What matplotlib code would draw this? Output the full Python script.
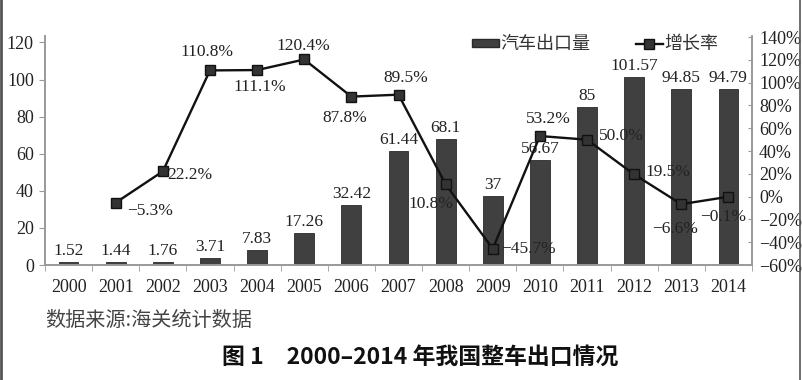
import numpy as np
import matplotlib.pyplot as plt
from matplotlib.patches import Patch
from matplotlib.lines import Line2D

years = [str(y) for y in range(2000, 2015)]
exports = [1.52, 1.44, 1.76, 3.71, 7.83, 17.26, 32.42, 61.44, 68.1, 37, 56.67, 85, 101.57, 94.85, 94.79]
export_labels = ["1.52", "1.44", "1.76", "3.71", "7.83", "17.26", "32.42", "61.44", "68.1", "37",
                 "56.67", "85", "101.57", "94.85", "94.79"]
growth_years = years[1:]
growth = [-5.3, 22.2, 110.8, 111.1, 120.4, 87.8, 89.5, 10.8, -45.7, 53.2, 50.0, 19.5, -6.6, -0.1]
growth_labels = ["\u22125.3%", "22.2%", "110.8%", "111.1%", "120.4%", "87.8%", "89.5%", "10.8%",
                 "\u221245.7%", "53.2%", "50.0%", "19.5%", "\u22126.6%", "\u22120.1%"]

# label placement for the growth line: (dx px, dy px, ha)
growth_offsets = [(11, -8, 'left'), (4, -4, 'left'), (-3, 18, 'center'), (3, -17, 'center'),
                  (-1, 13, 'center'), (-7, -21, 'center'), (7, 17, 'center'), (-15, -20, 'center'),
                  (8, 0, 'left'), (8, 17, 'center'), (12, 4, 'left'), (11, 2, 'left'),
                  (-6, -25, 'center'), (-5, -20, 'center')]

serif = 'Liberation Serif'
cjk = ['Noto Sans CJK SC', 'DejaVu Sans']
txt = '#222222'
spine_c = '#999999'

fig = plt.figure(figsize=(8.02, 3.8), dpi=100)
ax = fig.add_axes([45 / 802, 1 - 265 / 380, 707 / 802, 229 / 380])
ax2 = ax.twinx()

x = np.arange(len(years))
ax.bar(x, exports, width=0.42, color='#404040', edgecolor='#2a2a2a', linewidth=0.6, zorder=2)
for xi, v, lab in zip(x, exports, export_labels):
    ax.annotate(lab, (xi, v), xytext=(0, 3), textcoords='offset pixels', ha='center', va='bottom',
                fontsize=12.5, family=serif, color=txt, zorder=5)

xg = x[1:]
ax2.plot(xg, growth, color='#111111', linewidth=1.7, marker='s', markersize=7,
         markerfacecolor='#333333', markeredgecolor='#111111', zorder=4)
for xi, v, lab, (dx, dy, ha) in zip(xg, growth, growth_labels, growth_offsets):
    ax2.annotate(lab, (xi, v), xytext=(dx, dy), textcoords='offset pixels', ha=ha, va='center',
                 fontsize=12.5, family=serif, color=txt, zorder=5)

ax.set_xlim(-0.5, len(years) - 0.5)
ax.set_ylim(0, 123.5)
ax2.set_ylim(-60, 141)
ax.set_yticks(range(0, 121, 20))
ax2.set_yticks(range(-60, 141, 20))
ax2.set_yticklabels([("\u2212" if t < 0 else "") + f"{abs(t)}%" for t in range(-60, 141, 20)])

ax.set_xticks(x)
ax.set_xticklabels(years)
ax.set_xticks(np.arange(-0.5, len(years), 1), minor=True)
ax.tick_params(axis='x', which='major', length=0, pad=10)
ax.tick_params(axis='x', which='minor', length=4, color=spine_c, direction='out')
ax.tick_params(axis='y', length=4, color=spine_c, direction='out', pad=4)
ax2.tick_params(axis='y', length=3, color=spine_c, direction='in', pad=5)

for a in (ax, ax2):
    a.spines['top'].set_visible(False)
    for s in ('left', 'right', 'bottom'):
        a.spines[s].set_color(spine_c)
        a.spines[s].set_linewidth(1.2)
    for lab in a.get_xticklabels() + a.get_yticklabels():
        lab.set_fontfamily(serif)
        lab.set_fontsize(13)
        lab.set_color(txt)

handles = [Patch(facecolor='#404040', edgecolor='#2a2a2a'),
           Line2D([0], [0], color='#111111', linewidth=1.7, marker='s', markersize=7,
                  markerfacecolor='#333333', markeredgecolor='#111111')]
leg = fig.legend(handles, ['汽车出口量', '增长率'], loc='center', bbox_to_anchor=(0.742, 0.884),
                 ncol=2, frameon=False, handlelength=1.5, handleheight=0.3, handletextpad=0.1,
                 columnspacing=2.5, prop={'family': cjk, 'size': 13})
for t in leg.get_texts():
    t.set_color('#333333')

fig.text(45 / 802, 1 - 320 / 380, '数据来源:海关统计数据', ha='left', va='center',
         fontsize=14.5, family=cjk, color='#444444')
fig.text(420 / 802, 1 - 357 / 380, '图 1\u30002000\u20132014 年我国整车出口情况', ha='center', va='center',
         fontsize=16.5, family=cjk, fontweight='bold', color='#111111')

# scan frame edges
fig.add_artist(Line2D([0.0015, 0.0015], [0, 1], transform=fig.transFigure, color='#555555', linewidth=2))
fig.add_artist(Line2D([0.998, 0.998], [0, 1], transform=fig.transFigure, color='#555555', linewidth=1.2))

fig.savefig('out.png', dpi=100)
